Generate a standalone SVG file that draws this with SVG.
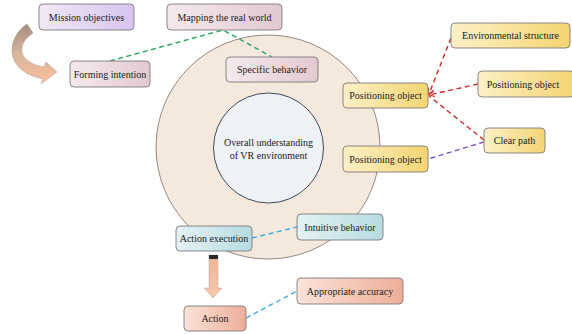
<svg xmlns="http://www.w3.org/2000/svg" width="572" height="334" viewBox="0 0 572 334">
  <defs>
    <linearGradient id="gPurple" x1="0" y1="0" x2="1" y2="0">
      <stop offset="0" stop-color="#f1e9f6"/>
      <stop offset="1" stop-color="#d6c4ef"/>
    </linearGradient>
    <linearGradient id="gPink" x1="0" y1="0" x2="1" y2="0">
      <stop offset="0" stop-color="#f4e9ec"/>
      <stop offset="1" stop-color="#e2c9d1"/>
    </linearGradient>
    <linearGradient id="gYellow" x1="0" y1="0" x2="1" y2="0">
      <stop offset="0" stop-color="#fcf0c6"/>
      <stop offset="1" stop-color="#f4d472"/>
    </linearGradient>
    <linearGradient id="gTeal" x1="0" y1="0" x2="1" y2="0">
      <stop offset="0" stop-color="#e4f2f4"/>
      <stop offset="1" stop-color="#b6dbe1"/>
    </linearGradient>
    <linearGradient id="gPeach" x1="0" y1="0" x2="1" y2="0">
      <stop offset="0" stop-color="#fbe3d9"/>
      <stop offset="1" stop-color="#edae98"/>
    </linearGradient>
    <linearGradient id="gCurve" x1="0" y1="0" x2="0" y2="1">
      <stop offset="0" stop-color="#a58e80"/>
      <stop offset="0.5" stop-color="#d8b49c"/>
      <stop offset="1" stop-color="#fbc29c"/>
    </linearGradient>
    <linearGradient id="gDown" x1="0" y1="0" x2="0" y2="1">
      <stop offset="0" stop-color="#f0b496"/>
      <stop offset="1" stop-color="#f6c7ad"/>
    </linearGradient>
    <marker id="openHead" viewBox="0 0 10 10" refX="9" refY="5" markerWidth="7" markerHeight="7" orient="auto" markerUnits="userSpaceOnUse">
      <path d="M1,1 L9,5 L1,9" fill="none" stroke="#d42a2a" stroke-width="1.4"/>
    </marker>
  </defs>
  <style>
    .box { stroke: #7d7a7a; stroke-width: 0.9; }
    .lbl { font-family: "Liberation Serif", "Times New Roman", serif; font-size: 10px; fill: #222; text-anchor: middle; dominant-baseline: central; }
    .dash { fill: none; stroke-width: 1.4; stroke-dasharray: 5 3.5; }
    .green { stroke: #2aa85a; }
    .red { stroke: #d42a2a; }
    .violet { stroke: #7a4fb8; }
    .blue { stroke: #38aee0; }
  </style>

  <rect width="572" height="334" fill="#ffffff"/>

  <!-- outer ring and inner core -->
  <g id="ring">
    <circle cx="268" cy="147" r="112" fill="#f5e8dc" stroke="#8a7c74" stroke-width="0.9"/>
  </g>
  <g id="core">
    <circle cx="268.5" cy="148" r="55" fill="#eef2f7" stroke="#3c4a5e" stroke-width="1"/>
    <text class="lbl" x="268.5" y="142">Overall understanding</text>
    <text class="lbl" x="268.5" y="155">of VR environment</text>
  </g>

  <!-- connectors -->
  <g id="connectors">
    <polyline class="dash green" points="110,61 223,30 272,57"/>
    <line class="dash red" x1="451" y1="38" x2="429" y2="94" marker-end="url(#openHead)"/>
    <line class="dash red" x1="478" y1="84" x2="429" y2="95" marker-end="url(#openHead)"/>
    <line class="dash red" x1="484" y1="140" x2="429" y2="96"/>
    <line class="dash violet" x1="484" y1="142" x2="428" y2="159"/>
    <line class="dash blue" x1="252" y1="238" x2="297" y2="227"/>
    <line class="dash blue" x1="246" y1="318" x2="297" y2="291"/>
    <!-- curved arrow from mission objectives to forming intention -->
    <path d="M27,24 C8,36 1,70 43,79 L41,84 L57,72 L46,62 L44,67 C20,63 14,46 33,33 Z" fill="url(#gCurve)" stroke="#9c8a80" stroke-width="0.4"/>
    <!-- down arrow from action execution to action -->
    <path d="M209,255 H218 V288 H222 L213,298 L204,288 H209 Z" fill="url(#gDown)" stroke="#b8a8a0" stroke-width="0.5"/>
    <rect x="209" y="255" width="9" height="4" fill="#2e2a2a"/>
  </g>

  <g id="mission-objectives">
    <rect class="box" x="39" y="4" width="95" height="26" rx="4" fill="url(#gPurple)"/>
    <text class="lbl" x="86.5" y="17">Mission objectives</text>
  </g>
  <g id="mapping-real-world">
    <rect class="box" x="167" y="4" width="115" height="26" rx="4" fill="url(#gPink)"/>
    <text class="lbl" x="224.5" y="17">Mapping the real world</text>
  </g>
  <g id="forming-intention">
    <rect class="box" x="70" y="61" width="80" height="26" rx="4" fill="url(#gPink)"/>
    <text class="lbl" x="110" y="74">Forming intention</text>
  </g>
  <g id="specific-behavior">
    <rect class="box" x="226" y="57" width="92" height="25" rx="4" fill="url(#gPink)"/>
    <text class="lbl" x="272" y="69.5">Specific behavior</text>
  </g>
  <g id="positioning-object-a">
    <rect class="box" x="343" y="83" width="85" height="25" rx="4" fill="url(#gYellow)"/>
    <text class="lbl" x="385.5" y="95.5">Positioning object</text>
  </g>
  <g id="positioning-object-b">
    <rect class="box" x="343" y="146" width="85" height="26" rx="4" fill="url(#gYellow)"/>
    <text class="lbl" x="385.5" y="159">Positioning object</text>
  </g>
  <g id="environmental-structure">
    <rect class="box" x="451" y="23" width="119" height="25" rx="4" fill="url(#gYellow)"/>
    <text class="lbl" x="510.5" y="35.5">Environmental structure</text>
  </g>
  <g id="positioning-object-c">
    <rect class="box" x="478" y="71" width="96" height="26" rx="4" fill="url(#gYellow)"/>
    <text class="lbl" x="523" y="84">Positioning object</text>
  </g>
  <g id="clear-path">
    <rect class="box" x="484" y="128" width="61" height="25" rx="4" fill="url(#gYellow)"/>
    <text class="lbl" x="514.5" y="140.5">Clear path</text>
  </g>
  <g id="action-execution">
    <rect class="box" x="176" y="226" width="76" height="25" rx="4" fill="url(#gTeal)"/>
    <text class="lbl" x="214" y="238.5">Action execution</text>
  </g>
  <g id="intuitive-behavior">
    <rect class="box" x="297" y="214" width="86" height="26" rx="4" fill="url(#gTeal)"/>
    <text class="lbl" x="340" y="227">Intuitive behavior</text>
  </g>
  <g id="action">
    <rect class="box" x="184" y="306" width="62" height="25" rx="4" fill="url(#gPeach)"/>
    <text class="lbl" x="215" y="318.5">Action</text>
  </g>
  <g id="appropriate-accuracy">
    <rect class="box" x="297" y="278" width="106" height="26" rx="4" fill="url(#gPeach)"/>
    <text class="lbl" x="350" y="291">Appropriate accuracy</text>
  </g>
</svg>
